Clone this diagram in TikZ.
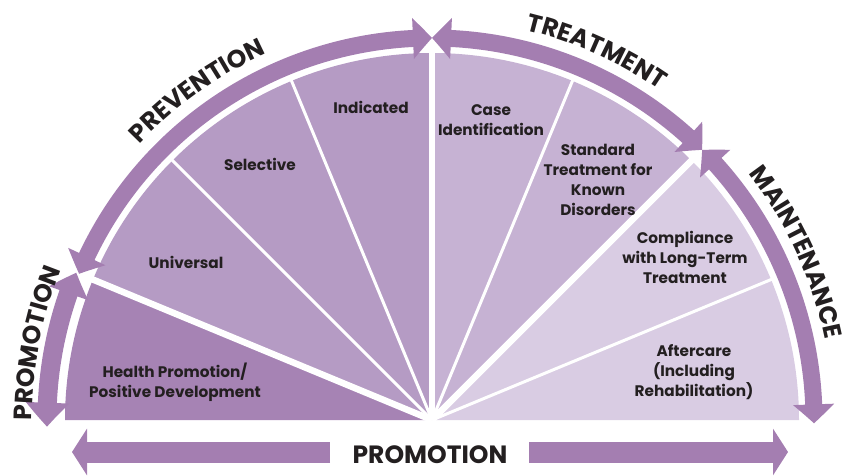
\documentclass[tikz,border=0pt]{standalone}
\usepackage{fontspec}
\setmainfont{Poppins}
\usetikzlibrary{arrows.meta,bending,decorations.text}
\definecolor{bandc}{HTML}{A47EB1}
\definecolor{segHP}{HTML}{A683B4}
\definecolor{segPV}{HTML}{B59BC4}
\definecolor{segTR}{HTML}{C6B2D3}
\definecolor{segMT}{HTML}{D9CCE3}
\definecolor{ink}{HTML}{231F20}
\newcommand\labfont{\fontsize{15.3}{20}\selectfont\bfseries}
\newcommand\headfont{\fontsize{25}{25}\selectfont\bfseries}
\newcommand\botfont{\fontsize{25}{25}\selectfont\bfseries}
\begin{document}
\begin{tikzpicture}[x=1pt,y=1pt,
  lab/.style={font=\labfont, text=ink, align=center, inner sep=0pt},
  bandline/.style={draw=bandc, line width=17pt},
  thick div/.style={draw=white, line width=6.5pt},
  thin div/.style={draw=white, line width=3pt}]
\useasboundingbox (0,0) rectangle (843,475);
\coordinate (C) at (432,55);
% sectors
\fill[segHP] (C) -- ++(157.5:367) arc[start angle=157.5,end angle=180,radius=367] -- cycle;
\fill[segPV] (C) -- ++(90:367) arc[start angle=90,end angle=157.5,radius=367] -- cycle;
\fill[segTR] (C) -- ++(45:367) arc[start angle=45,end angle=90,radius=367] -- cycle;
\fill[segMT] (C) -- ++(0:367) arc[start angle=0,end angle=45,radius=367] -- cycle;
% dividers
\foreach \a in {22.5,67.5,112.5,135} \draw[thin div] (C) -- ++(\a:370);
\foreach \a in {45,90,157.5} \draw[thick div] (C) -- ++(\a:370);
% curved bands
\draw[bandline, {Triangle[length=19pt,width=40pt,bend]}-{Triangle[length=19pt,width=40pt,bend]}]
  ([shift={(157.5:382)}]C) arc[start angle=157.5,end angle=90,radius=382];
\draw[bandline, {Triangle[length=19pt,width=40pt,bend]}-{Triangle[length=19pt,width=40pt,bend]}]
  ([shift={(90:382)}]C) arc[start angle=90,end angle=45,radius=382];
\draw[bandline, {Triangle[length=19pt,width=40pt,bend]}-{Triangle[length=19pt,width=40pt,bend]}]
  ([shift={(45:382)}]C) arc[start angle=45,end angle=-0.5,radius=382];
\draw[draw=bandc, line width=19pt, {Triangle[length=22pt,width=40pt,bend]}-{Triangle[length=24pt,width=42pt,bend]}]
  ([shift={(157.5:385)}]C) arc[start angle=157.5,end angle=181,radius=385];
% headings along arcs
\path[decorate, decoration={text along path, text align=center, text={|\headfont\color{ink}|PREVENTION}}]
  ([shift={(165:402)}]C) arc[start angle=165,end angle=86,radius=402];
\path[decorate, decoration={text along path, text align=center, text={|\headfont\color{ink}|TREATMENT}}]
  ([shift={(105:401)}]C) arc[start angle=105,end angle=26.8,radius=401];
\path[decorate, decoration={text along path, text align=center, text={|\headfont\color{ink}|MAINTENANCE}}]
  ([shift={(65:401)}]C) arc[start angle=65,end angle=-15.6,radius=401];
\path[decorate, decoration={text along path, text align=center, text={|\headfont\color{ink}|PROMOTION}}]
  ([shift={(205:400)}]C) arc[start angle=205,end angle=133,radius=400];
% segment labels
\node[lab] (hp) at (175,93) {Health Promotion/\\Positive Development};
\node[lab] (un) at (186,213) {Universal};
\node[lab] (se) at (260,311) {Selective};
\node[lab] (in) at (371,368) {Indicated};
\node[lab] (ci) at (491,355) {Case\\Identification};
\node[lab] (st) at (598,295.5) {Standard\\Treatment for\\Known\\Disorders};
\node[lab] (co) at (685,218) {Compliance\\with Long-Term\\Treatment};
\node[lab] (af) at (694,103) {Aftercare\\(Including\\Rehabilitation)};
% bottom promotion arrows
\node[font=\botfont, text=ink, inner sep=0pt] (pr) at (430,20) {PROMOTION};
\coordinate (lS) at (330,23);
\coordinate (lT) at (72,23);
\coordinate (rS) at (529,23);
\coordinate (rT) at (788,23);
\draw[draw=bandc, line width=21pt, -{Triangle[length=15pt,width=46pt]}] (lS) -- (lT);
\draw[draw=bandc, line width=21pt, -{Triangle[length=15pt,width=46pt]}] (rS) -- (rT);
\end{tikzpicture}
\end{document}
